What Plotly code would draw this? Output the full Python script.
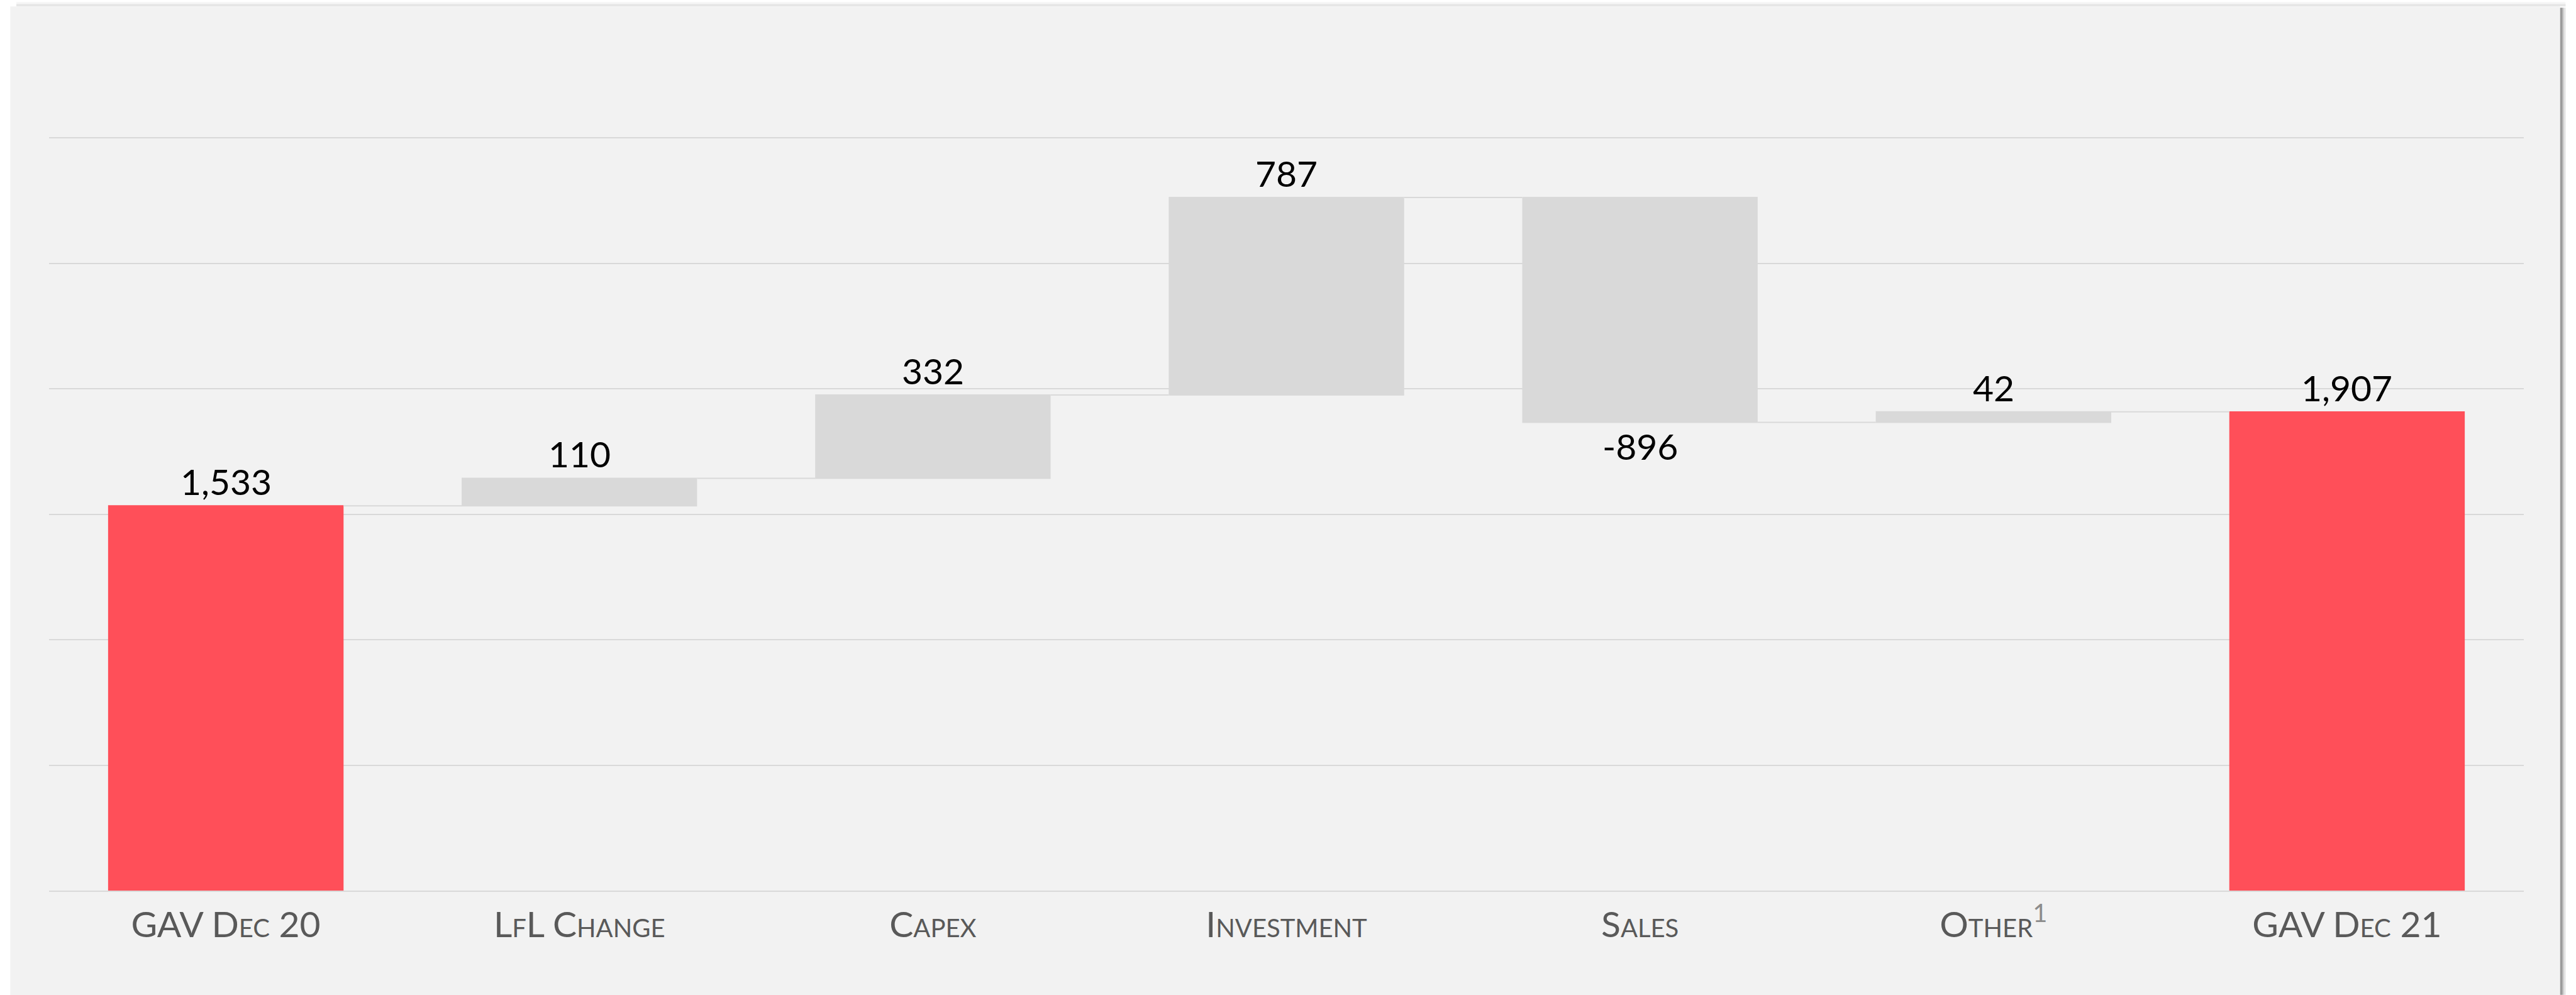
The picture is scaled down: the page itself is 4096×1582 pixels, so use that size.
import plotly.graph_objects as go

# ---- data ----
categories = ["GAV Dec 20", "LfL Change", "Capex", "Investment", "Sales", "Other<sup><span style='color:#8c8c8c'>1</span></sup>", "GAV Dec 21"]
values = [1533, 110, 332, 787, -896, 42, 1907]
measures = ["absolute", "relative", "relative", "relative", "relative", "relative", "absolute"]
value_labels = ["1,533", "110", "332", "787", "-896", "42", "1,907"]
y_ticks = [0, 500, 1000, 1500, 2000, 2500, 3000]

W, H = 4096, 1582
L, R, T, B = 78, 4013.5, 218.5, 1416.4
YMAX = 3000

def px(x):
    return (x - L) / (R - L)

def py(y):
    return (B - y) / (B - T)

RED = "#FF4F59"
GREY = "#D9D9D9"

fig = go.Figure()
fig.add_trace(go.Waterfall(
    x=list(range(len(categories))),
    y=values,
    measure=measures,
    increasing=dict(marker=dict(color=GREY, line=dict(width=0))),
    decreasing=dict(marker=dict(color=GREY, line=dict(width=0))),
    totals=dict(marker=dict(color=RED, line=dict(width=0))),
    connector=dict(line=dict(color=GREY, width=2), mode="between"),
    showlegend=False,
    hoverinfo="skip",
))

annotations = []
level = 0
for i, (v, m, lab) in enumerate(zip(values, measures, value_labels)):
    if m == "absolute":
        start, end = 0, v
        level = v
    else:
        start, end = level, level + v
        level = end
    if end >= start:
        annotations.append(dict(x=i, y=end, xref="x", yref="y", text=lab, showarrow=False,
                                yanchor="bottom", yshift=3,
                                font=dict(family="Lato", size=57, color="#000000")))
    else:
        annotations.append(dict(x=i, y=end, xref="x", yref="y", text=lab, showarrow=False,
                                yanchor="top", yshift=-2,
                                font=dict(family="Lato", size=57, color="#000000")))

shapes = []
# right shadow
for x0, x1, c in [(4071, 4074.5, "#9a9a9a"), (4074.5, 4077, "#b9b9b9"), (4077, 4080, "#e2e2e2")]:
    shapes.append(dict(type="rect", xref="paper", yref="paper", x0=px(x0), x1=px(x1), y0=py(H), y1=py(14),
                       fillcolor=c, line=dict(width=0), layer="below"))
# top shadow
for y0, y1, c in [(5, 8, "#f6f6f6"), (8, 12, "#e6e6e6")]:
    shapes.append(dict(type="rect", xref="paper", yref="paper", x0=px(26), x1=px(4080), y0=py(y1), y1=py(y0),
                       fillcolor=c, line=dict(width=0), layer="below"))
# panel
shapes.append(dict(type="rect", xref="paper", yref="paper", x0=px(16.3), x1=px(4071), y0=py(H + 5), y1=py(12),
                   fillcolor="#F2F2F2", line=dict(width=0), layer="below"))

fig.update_layout(
    width=W, height=H,
    margin=dict(l=L, r=W - R, t=T - 2, b=H - B, pad=0),
    paper_bgcolor="#FFFFFF",
    plot_bgcolor="rgba(0,0,0,0)",
    waterfallgap=0.334,
    shapes=shapes,
    annotations=annotations,
    xaxis=dict(
        range=[-0.5, len(categories) - 0.5],
        tickmode="array",
        tickvals=list(range(len(categories))),
        ticktext=categories,
        showgrid=False, zeroline=False,
        showline=True, linecolor=GREY, linewidth=2,
        ticks="", ticklabelstandoff=4,
        tickfont=dict(family="Lato", size=57, color="#595959", variant="small-caps"),
    ),
    yaxis=dict(
        range=[0, YMAX * (1 + 2 / (B - T))],
        tickmode="array", tickvals=y_ticks,
        showticklabels=False,
        showgrid=True, gridcolor=GREY, gridwidth=1.7,
        zeroline=False, showline=False, ticks="",
    ),
)

fig.write_html("out.html")
